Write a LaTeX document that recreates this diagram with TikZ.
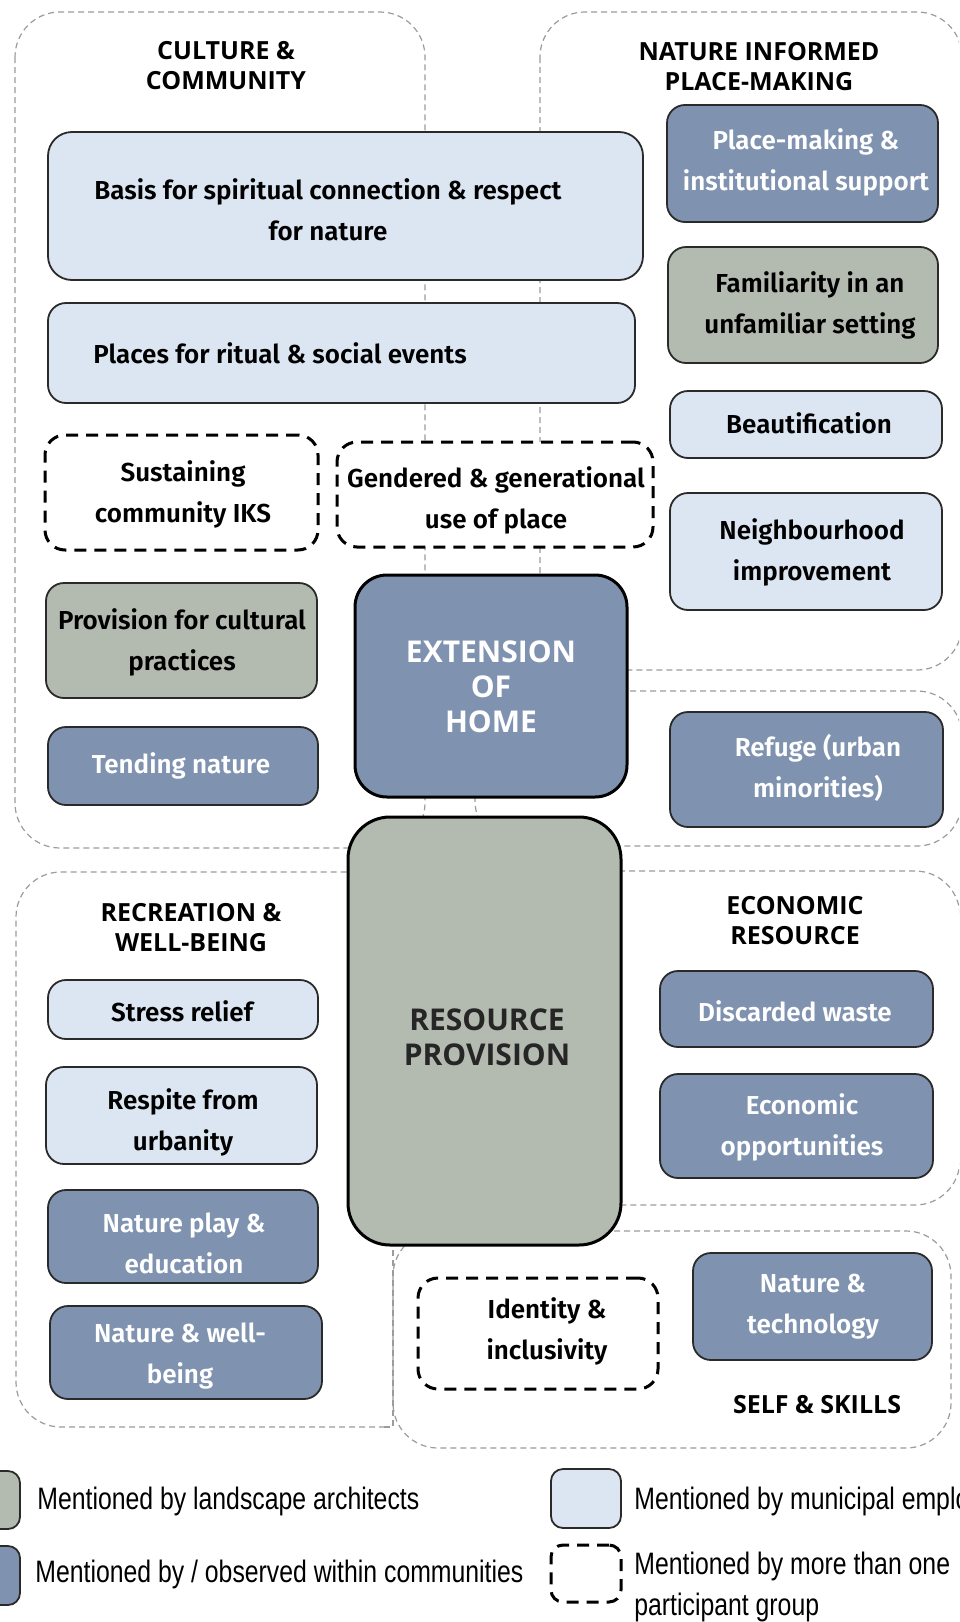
\documentclass[tikz,border=0pt]{standalone}
\usepackage{fontspec}
\newfontfamily\itemfont{Fira Sans SemiBold}
\newfontfamily\headfont{Open Sans}
\newfontfamily\legendfont[FakeStretch=0.8]{Liberation Sans}

\definecolor{lightblue}{HTML}{DCE6F2}
\definecolor{slateblue}{HTML}{7F93B0}
\definecolor{sage}{HTML}{B3BBB1}
\definecolor{outline}{HTML}{2A2A2A}
\definecolor{zone}{HTML}{9C9C9C}

% rounded card given by its corners: name, style, x1, y1, x2, y2
\newcommand\mkcard[6]{%
  \node[#2, minimum width={(#5-#3)*0.5pt}, minimum height={(#6-#4)*0.5pt}]
    (#1) at ({(#3+#5)/2},{(#4+#6)/2}) {};}

\tikzset{
  zonebox/.style={draw=zone, line width=0.6pt, dash pattern=on 3pt off 2pt, rounded corners=22.5pt},
  card/.style={rectangle, inner sep=0pt, outer sep=0pt, draw=outline, line width=0.9pt, rounded corners=9pt},
  lightcard/.style={card, fill=lightblue},
  slatecard/.style={card, fill=slateblue},
  sagecard/.style={card, fill=sage},
  sharedcard/.style={card, draw=black, fill=white, line width=1.5pt, dash pattern=on 6pt off 4pt, rounded corners=10pt},
  hubcard/.style={card, draw=black, line width=1.5pt},
  itemtxt/.style={font=\itemfont\fontsize{13}{20.5}\selectfont, align=center, inner sep=0pt, text=black},
  itemwhite/.style={itemtxt, text=white},
  zonetitle/.style={font=\headfont\bfseries\fontsize{12.5}{15}\selectfont, align=center, inner sep=0pt, text=black},
  hubtxt/.style={font=\headfont\bfseries\fontsize{15}{17.5}\selectfont, align=center, inner sep=0pt, text=white},
  legendtxt/.style={font=\legendfont\fontsize{15.5}{20.5}\selectfont, align=left, inner sep=0pt, anchor=west, text=black},
}

\begin{document}
\begin{tikzpicture}[x=0.5pt, y=-0.5pt]
\useasboundingbox (0,0) rectangle (959,1622);
\clip (0,0) rectangle (959,1622);
\fill[white] (0,0) rectangle (959,1622);

% ---- theme zones ----
\draw[zonebox] (15,12) rectangle (425,848);      % culture & community
\draw[zonebox] (540,12) rectangle (962,670);     % nature informed place-making
\draw[zonebox] (475,691) rectangle (962,846);    % refuge
\draw[zonebox] (470,871) rectangle (960,1205);   % economic resource
\draw[zonebox] (393,1231) rectangle (951,1448);  % self & skills
\draw[zonebox] (385,1427) -- (16,1427) -- (16,872) -- (360,872); % recreation & well-being
\draw[zone, line width=0.6pt, dash pattern=on 3pt off 2pt] (393,1250) -- (393,1427) -- (380,1427);

% ---- zone titles ----
\node[zonetitle] (t-culture) at (226,66) {CULTURE \&\\COMMUNITY};
\node[zonetitle] (t-nature) at (759,67) {NATURE INFORMED\\PLACE-MAKING};
\node[zonetitle] (t-recreation) at (191,928) {RECREATION \&\\WELL-BEING};
\node[zonetitle] (t-economic) at (795,921) {ECONOMIC\\RESOURCE};
\node[zonetitle] (t-self) at (817,1405) {SELF \& SKILLS};

% ---- culture & community ----
\mkcard{basis}{lightcard, rounded corners=12pt}{48}{132}{643}{280}
\node[itemtxt] (basis-t) at (328,210) {Basis for spiritual connection \& respect\\for nature};
\mkcard{places}{lightcard}{48}{303}{635}{403}
\node[itemtxt] (places-t) at (280,353) {Places for ritual \& social events};
\mkcard{iks}{sharedcard}{45}{435}{318}{550}
\node[itemtxt] (iks-t) at (183,494) {Sustaining\\community IKS};
\mkcard{gendered}{sharedcard}{337}{442}{653}{547}
\node[itemtxt] (gendered-t) at (496,500) {Gendered \& generational\\use of place};
\mkcard{provision}{sagecard}{46}{583}{317}{698}
\node[itemtxt] (provision-t) at (182,642) {Provision for cultural\\practices};
\mkcard{tending}{slatecard}{48}{727}{318}{805}
\node[itemwhite] (tending-t) at (181,766) {Tending nature};

% ---- nature informed place-making ----
\mkcard{placemaking}{slatecard}{667}{105}{938}{222}
\node[itemwhite] (placemaking-t) at (806,162) {Place-making \&\\institutional support};
\mkcard{familiarity}{sagecard}{668}{247}{938}{363}
\node[itemtxt] (familiarity-t) at (810,305) {Familiarity in an\\unfamiliar setting};
\mkcard{beauty}{lightcard}{670}{391}{942}{458}
\node[itemtxt] (beauty-t) at (809,423) {Beautification};
\mkcard{neighbour}{lightcard}{670}{493}{942}{610}
\node[itemtxt] (neighbour-t) at (812,552) {Neighbourhood\\improvement};
\mkcard{refuge}{slatecard}{670}{712}{943}{827}
\node[itemwhite] (refuge-t) at (818,768) {Refuge (urban\\minorities)};

% ---- central themes ----
\mkcard{extension}{hubcard, fill=slateblue, rounded corners=16pt}{355}{575}{627}{797}
\node[hubtxt] (extension-t) at (491,687) {EXTENSION\\OF\\HOME};
\mkcard{resource}{hubcard, fill=sage, rounded corners=21pt}{348}{817}{621}{1245}
\node[hubtxt, text=black!85] (resource-t) at (487,1037) {RESOURCE\\PROVISION};

% ---- recreation & well-being ----
\mkcard{stress}{lightcard}{48}{980}{318}{1039}
\node[itemtxt] (stress-t) at (182,1011) {Stress relief};
\mkcard{respite}{lightcard}{46}{1067}{317}{1164}
\node[itemtxt] (respite-t) at (183,1122) {Respite from\\urbanity};
\mkcard{play}{slatecard}{48}{1190}{318}{1283}
\node[itemwhite] (play-t) at (184,1243) {Nature play \&\\education};
\mkcard{wellbeing}{slatecard}{50}{1306}{322}{1399}
\node[itemwhite] (wellbeing-t) at (180,1356) {Nature \& well-\\being};

% ---- economic resource ----
\mkcard{waste}{slatecard}{660}{971}{933}{1047}
\node[itemwhite] (waste-t) at (795,1011) {Discarded waste};
\mkcard{econ}{slatecard}{660}{1074}{933}{1178}
\node[itemwhite] (econ-t) at (802,1127) {Economic\\opportunities};

% ---- self & skills ----
\mkcard{identity}{sharedcard}{418}{1278}{658}{1389}
\node[itemtxt] (identity-t) at (547,1331) {Identity \&\\inclusivity};
\mkcard{tech}{slatecard}{693}{1253}{932}{1360}
\node[itemwhite] (tech-t) at (813,1307) {Nature \&\\technology};

% ---- legend ----
\mkcard{key-sage}{sagecard, rounded corners=6pt}{-40}{1471}{20}{1529}
\node[legendtxt] (key-sage-t) at (37,1501) {Mentioned by landscape architects};
\mkcard{key-slate}{slatecard, rounded corners=6pt}{-40}{1546}{20}{1605}
\node[legendtxt] (key-slate-t) at (35,1574) {Mentioned by / observed within communities};
\mkcard{key-light}{lightcard, rounded corners=6pt}{551}{1469}{621}{1528}
\node[legendtxt] (key-light-t) at (634,1501) {Mentioned by municipal employees};
\mkcard{key-shared}{sharedcard, rounded corners=6pt}{551}{1545}{621}{1602}
\node[legendtxt] (key-shared-t) at (634,1587) {Mentioned by more than one\\participant group};
\end{tikzpicture}
\end{document}
